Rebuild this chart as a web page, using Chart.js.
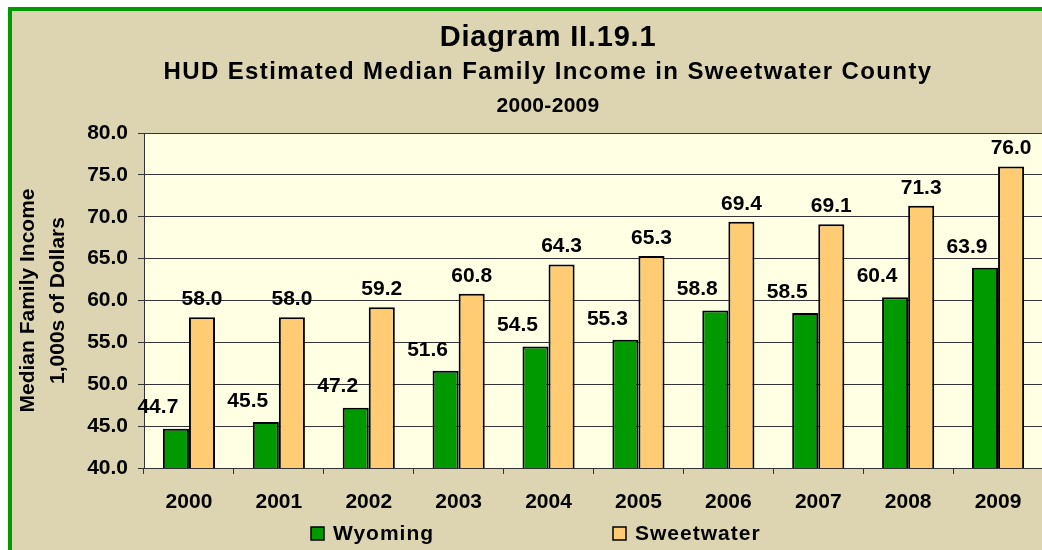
<!DOCTYPE html>
<html>
<head>
<meta charset="utf-8">
<script src="https://cdn.jsdelivr.net/npm/chart.js@4.4.0/dist/chart.umd.min.js"></script>
<style>
  html, body { margin: 0; padding: 0; background: #ffffff; overflow: hidden; }
  #frame {
    position: absolute; left: 8px; top: 7px;
    width: 1072px; height: 560px;
    border-left: 4px solid #009900; border-top: 4px solid #009900;
    background: #DDD5B1;
  }
  #chart { display: block; }
</style>
</head>
<body>
<div id="frame"><canvas id="chart" width="1072" height="539"></canvas></div>
<script>
// chart data
const years = ['2000', '2001', '2002', '2003', '2004', '2005', '2006', '2007', '2008', '2009'];
const wyoming = [44.7, 45.5, 47.2, 51.6, 54.5, 55.3, 58.8, 58.5, 60.4, 63.9];
const sweetwater = [58.0, 58.0, 59.2, 60.8, 64.3, 65.3, 69.4, 69.1, 71.3, 76.0];
const seriesNames = ['Wyoming', 'Sweetwater'];

const FONT = '"Liberation Sans", Arial, sans-serif';

// plot background + header text
const framePlugin = {
    id: 'framePlugin',
    beforeDraw(chart) {
        const { ctx, chartArea: a } = chart;
        ctx.save();
        ctx.fillStyle = '#FFFFE3';
        ctx.fillRect(a.left, a.top, a.right - a.left, a.bottom - a.top);
        ctx.restore();
    },
    afterDraw(chart) {
        const ctx = chart.ctx;
        const cx = chart.width / 2;
        ctx.save();
        ctx.fillStyle = '#000';
        ctx.textAlign = 'center';
        ctx.textBaseline = 'middle';
        ctx.font = 'bold 29px ' + FONT;
        ctx.letterSpacing = '0.8px';
        ctx.fillText('Diagram II.19.1', cx, 27);
        ctx.font = 'bold 24px ' + FONT;
        ctx.letterSpacing = '1.4px';
        ctx.fillText('HUD Estimated Median Family Income in Sweetwater County', cx, 61);
        ctx.font = 'bold 21px ' + FONT;
        ctx.letterSpacing = '0.3px';
        ctx.fillText('2000-2009', cx, 95);

        // legend
        const legendX = [299, 601];
        ctx.font = 'bold 21px ' + FONT;
        ctx.textAlign = 'left';
        ctx.letterSpacing = '1px';
        chart.data.datasets.forEach((ds, i) => {
            ctx.fillStyle = ds.backgroundColor;
            ctx.fillRect(legendX[i], 516, 13, 13);
            ctx.strokeStyle = '#000';
            ctx.lineWidth = 1.5;
            ctx.strokeRect(legendX[i], 516, 13, 13);
            ctx.fillStyle = '#000';
            ctx.fillText(ds.label, legendX[i] + 22, 523);
        });
        ctx.restore();
    }
};

// value labels above bars
const valueLabels = {
    id: 'valueLabels',
    afterDatasetsDraw(chart) {
        const ctx = chart.ctx;
        ctx.save();
        ctx.fillStyle = '#000';
        ctx.font = 'bold 21px ' + FONT;
        ctx.textAlign = 'center';
        ctx.textBaseline = 'middle';
        chart.data.datasets.forEach((ds, i) => {
            chart.getDatasetMeta(i).data.forEach((bar, j) => {
                const txt = ds.data[j].toFixed(1);
                if (i === 0) {
                    ctx.fillText(txt, bar.x - bar.width / 2 - 5, bar.y - 21);
                } else {
                    ctx.fillText(txt, bar.x, bar.y - 18);
                }
            });
        });
        ctx.restore();
    }
};

new Chart(document.getElementById('chart'), {
    type: 'bar',
    data: {
        labels: years,
        datasets: [{
            label: seriesNames[0],
            data: wyoming,
            backgroundColor: '#009900',
            borderColor: '#000',
            borderWidth: 2,
            borderSkipped: false,
            categoryPercentage: 0.58,
            barPercentage: 1
        }, {
            label: seriesNames[1],
            data: sweetwater,
            backgroundColor: '#FFCC73',
            borderColor: '#000',
            borderWidth: 2,
            borderSkipped: false,
            categoryPercentage: 0.58,
            barPercentage: 1
        }]
    },
    options: {
        responsive: false,
        animation: false,
        layout: { padding: { top: 122, left: 0, right: 41, bottom: 0 } },
        plugins: {
            legend: { display: false },
            title: { display: false },
            tooltip: { enabled: false }
        },
        scales: {
            x: {
                grid: { drawOnChartArea: false, color: '#333', tickLength: 6 },
                border: { color: '#333' },
                ticks: { color: '#000', padding: 16, font: { family: FONT, size: 21, weight: 'bold' } },
                afterFit(scale) { scale.height = 82; }
            },
            y: {
                min: 40,
                max: 80,
                ticks: {
                    stepSize: 5,
                    color: '#000',
                    padding: 10,
                    font: { family: FONT, size: 21, weight: 'bold' },
                    callback: v => v.toFixed(1)
                },
                grid: { color: '#333', tickLength: 6 },
                border: { color: '#333' },
                title: {
                    display: true,
                    text: ['Median Family Income', '1,000s of Dollars'],
                    color: '#000',
                    font: { family: FONT, size: 21, weight: 'bold', lineHeight: 1.4 },
                    padding: { top: 2, bottom: 0 }
                },
                afterFit(scale) { scale.width = 132; }
            }
        }
    },
    plugins: [framePlugin, valueLabels]
});
</script>
</body>
</html>
